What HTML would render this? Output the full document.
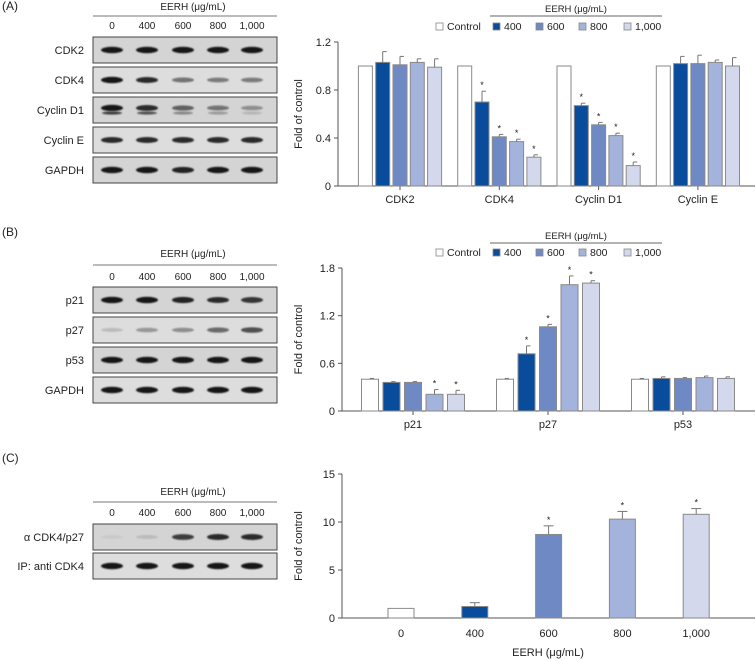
<!DOCTYPE html>
<html><head><meta charset="utf-8"><style>
html,body{margin:0;padding:0;background:#fff}
svg{display:block;font-family:"Liberation Sans",sans-serif}
</style></head><body>
<svg id="s" width="756" height="661" viewBox="0 0 756 661" xmlns="http://www.w3.org/2000/svg">
<defs><filter id="bl" x="-20%" y="-100%" width="140%" height="300%"><feGaussianBlur stdDeviation="0.9"/></filter></defs>
<g id="blots"></g>
<g id="chartA"></g>
<g id="chartB"></g>
<g id="chartC"></g>
</svg>
<script>
// ---- Chart A data ----
const catsA = ["CDK2","CDK4","Cyclin D1","Cyclin E"];
const valsA = [[1,1.03,1.01,1.03,0.99],[1,0.70,0.41,0.37,0.24],[1,0.67,0.51,0.42,0.17],[1,1.02,1.02,1.03,1.0]];
const errA  = [[0,0.09,0.07,0.03,0.07],[0,0.09,0.02,0.02,0.02],[0,0.02,0.02,0.02,0.03],[0,0.06,0.07,0.02,0.07]];
const starA = [[0,0,0,0,0],[0,1,1,1,1],[0,1,1,1,1],[0,0,0,0,0]];
const ticksA = [0,0.4,0.8,1.2];
// ---- Chart B data ----
const catsB = ["p21","p27","p53"];
const valsB = [[0.40,0.36,0.36,0.21,0.21],[0.40,0.72,1.06,1.59,1.61],[0.40,0.41,0.41,0.42,0.41]];
const errB  = [[0.01,0.01,0.01,0.06,0.05],[0.01,0.10,0.03,0.11,0.03],[0.01,0.02,0.01,0.02,0.02]];
const starB = [[0,0,0,1,1],[0,1,1,1,1],[0,0,0,0,0]];
const ticksB = [0,0.6,1.2,1.8];
// ---- Chart C data ----
const catsC = ["0","400","600","800","1,000"];
const valsC = [1,1.2,8.7,10.3,10.8];
const errC  = [0,0.4,0.9,0.8,0.6];
const starC = [0,0,1,1,1];
const ticksC = [0,5,10,15];
const seriesNames = ["Control","400","600","800","1,000"];
const colors = ["#ffffff","#0a4c9c","#6e89c4","#a4b3dc","#d3d8ec"];

const NS="http://www.w3.org/2000/svg";
function mk(p,tag,at,txt){const e=document.createElementNS(NS,tag);for(const k in at)e.setAttribute(k,at[k]);if(txt!==undefined)e.textContent=txt;p.appendChild(e);return e;}

function legend(g,y,lineY){
  let t=mk(g,"text",{x:576,y:lineY-4,"font-size":"9.5","text-anchor":"middle",fill:"#222"},"EERH (μg/mL)");
  
  
  mk(g,"line",{x1:490,x2:662,y1:lineY,y2:lineY,stroke:"#666","stroke-width":1});
  const xs=[437,494,537,580,625];
  for(let i=0;i<5;i++){
    const e=mk(g,"g",{});
    
    
    mk(e,"rect",{x:xs[i]-1,y:y-7,width:7,height:7,fill:colors[i],stroke:"#888","stroke-width":0.8});
    mk(e,"text",{x:xs[i]+10,y:y,"font-size":"10.5",fill:"#222"},seriesNames[i]);
  }
}

function groupChart(g,cats,vals,errs,stars,ticks,o){
  const ymax=ticks[ticks.length-1];
  const Y=v=>o.y0-(v/ymax)*(o.y0-o.y1);
  mk(g,"line",{x1:o.ax,x2:o.ax,y1:o.y1,y2:o.y0,stroke:"#555"});
  mk(g,"line",{x1:o.ax,x2:o.axEnd,y1:o.y0,y2:o.y0,stroke:"#555"});
  ticks.forEach(t=>{
    mk(g,"line",{x1:o.ax-4,x2:o.ax,y1:Y(t),y2:Y(t),stroke:"#555"});
    const tx=mk(g,"text",{x:o.ax-7,y:Y(t)+4,"font-size":"11","text-anchor":"end",fill:"#222"},String(t));
    
    
  });
  const yt=mk(g,"text",{x:0,y:0,"font-size":"11","text-anchor":"middle",fill:"#222",transform:`translate(${o.titleX},${(o.y0+o.y1)/2}) rotate(-90)`},"Fold of control");
  
  
  cats.forEach((c,gi)=>{
    const cx=o.c0+gi*o.gs;
    mk(g,"line",{x1:cx,x2:cx,y1:o.y0,y2:o.y0+4,stroke:"#555"});
    const lt=mk(g,"text",{x:cx,y:o.y0+17,"font-size":"11","text-anchor":"middle",fill:"#222"},c);
    
    
    vals[gi].forEach((v,i)=>{
      const bx=cx+(i-2)*o.step-o.bw/2;
      const r=mk(g,"rect",{x:bx,y:Y(v),width:o.bw,height:o.y0-Y(v),fill:colors[i],stroke:"#8a8a8a","stroke-width":1});
      
      
      const e=errs[gi][i];
      if(e>0){const mx=bx+o.bw/2;mk(g,"line",{x1:mx,x2:mx,y1:Y(v),y2:Y(v+e),stroke:"#777"});mk(g,"line",{x1:mx,x2:mx+4,y1:Y(v+e),y2:Y(v+e),stroke:"#777"});}
      if(stars[gi][i]) mk(g,"text",{x:bx+o.bw/2,y:Y(v+e)-3,"font-size":"9","text-anchor":"middle",fill:"#222"},"*");
    });
  });
}

groupChart(document.getElementById("chartA"),catsA,valsA,errA,starA,ticksA,{ax:338,axEnd:755,y0:186,y1:42,c0:400,gs:99.3,step:17.3,bw:14,titleX:302});
legend(document.getElementById("chartA"),30,16);
groupChart(document.getElementById("chartB"),catsB,valsB,errB,starB,ticksB,{ax:342,axEnd:755,y0:411,y1:268,c0:413,gs:135,step:21.5,bw:17,titleX:302});
legend(document.getElementById("chartB"),256,243);

// Chart C
(function(){
  const g=document.getElementById("chartC");
  const ax=342,axEnd=755,y0=618,y1=474,c0=401,gs=73.8,bw=26;
  const ymax=ticksC[ticksC.length-1];const Y=v=>y0-(v/ymax)*(y0-y1);
  mk(g,"line",{x1:ax,x2:ax,y1:y1,y2:y0,stroke:"#555"});
  mk(g,"line",{x1:ax,x2:axEnd,y1:y0,y2:y0,stroke:"#555"});
  ticksC.forEach(t=>{mk(g,"line",{x1:ax-4,x2:ax,y1:Y(t),y2:Y(t),stroke:"#555"});
    const tx=mk(g,"text",{x:ax-7,y:Y(t)+4,"font-size":"11","text-anchor":"end",fill:"#222"},String(t));
    
    });
  const yt=mk(g,"text",{x:0,y:0,"font-size":"11","text-anchor":"middle",fill:"#222",transform:`translate(302,${(y0+y1)/2}) rotate(-90)`},"Fold of control");
  
  
  catsC.forEach((c,i)=>{
    const cx=c0+i*gs,v=valsC[i],e=errC[i];
    const r=mk(g,"rect",{x:cx-bw/2,y:Y(v),width:bw,height:y0-Y(v),fill:colors[i],stroke:"#8a8a8a"});
    
    
    if(e>0){mk(g,"line",{x1:cx,x2:cx,y1:Y(v),y2:Y(v+e),stroke:"#777"});mk(g,"line",{x1:cx-5,x2:cx+5,y1:Y(v+e),y2:Y(v+e),stroke:"#777"});}
    if(starC[i]) mk(g,"text",{x:cx,y:Y(v+e)-3,"font-size":"9","text-anchor":"middle",fill:"#222"},"*");
    const lt=mk(g,"text",{x:cx,y:637,"font-size":"11","text-anchor":"middle",fill:"#222"},c);
    
    
  });
  const xt=mk(g,"text",{x:548,y:656,"font-size":"11","text-anchor":"middle",fill:"#222"},"EERH (μg/mL)");
  
  
})();

// Blots
const lanes=["0","400","600","800","1,000"];
const laneX=[112,147,183,218,252];
const blotA=[["CDK2",[1,1,1,1,1]],["CDK4",[1,.9,.5,.45,.45]],["Cyclin D1",[1,.9,.6,.5,.35]],["Cyclin E",[.9,.9,.9,.9,.9]],["GAPDH",[1,1,.95,1,1]]];
const blotB=[["p21",[1,1,.95,.9,.85]],["p27",[.1,.3,.35,.55,.7]],["p53",[1,1,1,1,1]],["GAPDH",[1,1,1,1,1]]];
const blotC=[["α CDK4/p27",[.02,.1,.8,.9,.9]],["IP: anti CDK4",[1,1,1,1,1]]];
function blotPanel(letter,letterY,headY,lineY,laneY,rowY0,rows,rowH,gap){
  const g=document.getElementById("blots");
  const L=mk(g,"text",{x:2,y:letterY,"font-size":"12",fill:"#222"},"("+letter+")");
  
  
  mk(g,"text",{x:193,y:headY,"font-size":"10","text-anchor":"middle",fill:"#222"},"EERH (μg/mL)");
  mk(g,"line",{x1:93,x2:277,y1:lineY,y2:lineY,stroke:"#777"});
  lanes.forEach((l,i)=>mk(g,"text",{x:laneX[i],y:laneY,"font-size":"10","text-anchor":"middle",fill:"#222"},l));
  rows.forEach((r,ri)=>{
    const y=rowY0+ri*(rowH+gap);
    const bg=ri%2===0?"#d4d4d4":"#dddddd";
    const box=mk(g,"rect",{x:93,y:y,width:184,height:rowH,fill:bg,stroke:"#444","stroke-width":1});
    
    
    mk(g,"text",{x:84,y:y+rowH/2+4,"font-size":"11","text-anchor":"end",fill:"#222"},r[0]);
    const dbl=r[0]==="Cyclin D1";
    r[1].forEach((k,i)=>{
      const c=Math.round(25+(1-k)*180);
      mk(g,"ellipse",{cx:laneX[i],cy:y+rowH/2-(dbl?2:0),rx:11,ry:1.8+k*1.4,fill:`rgb(${c},${c},${c})`,filter:"url(#bl)"});
      if(dbl) mk(g,"ellipse",{cx:laneX[i],cy:y+rowH/2+3,rx:10,ry:1.6,fill:`rgb(${c+40},${c+40},${c+40})`,filter:"url(#bl)"});
    });
  });
}
blotPanel("A",10,10,16,29,37,blotA,26,4);
blotPanel("B",236,257,265,280,287,blotB,26,4);
blotPanel("C",462,495,502,516,524,blotC,26,3);
</script>
</body></html>
